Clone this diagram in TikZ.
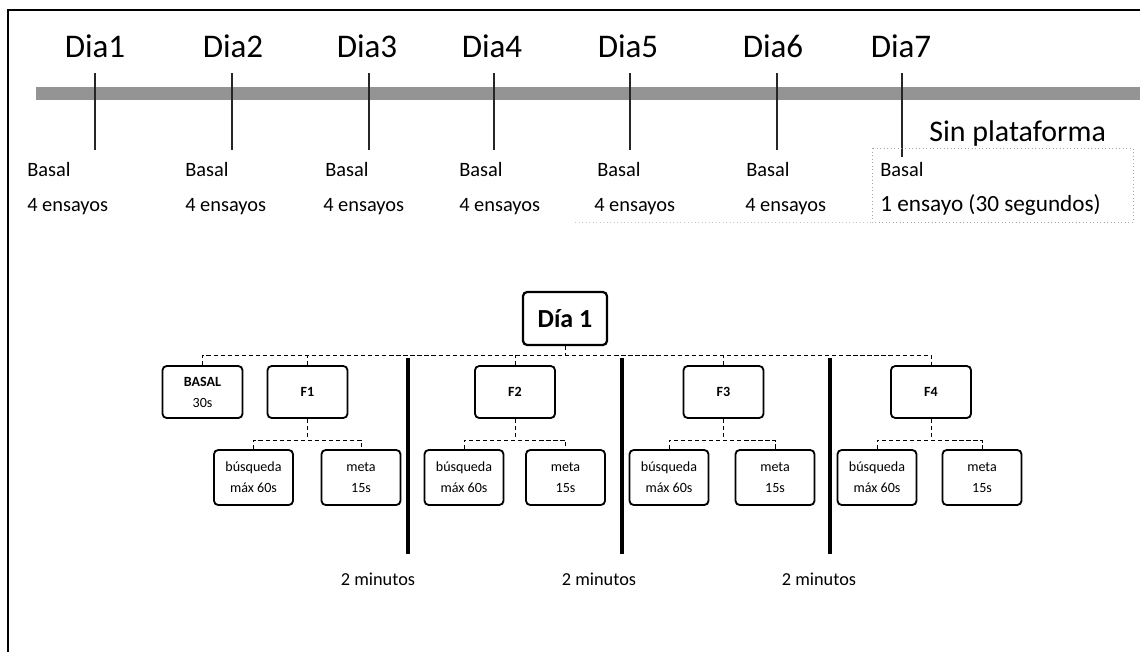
\documentclass[tikz,border=0pt]{standalone}
\usepackage{fontspec}
\setmainfont{Carlito}
\usetikzlibrary{positioning}

\begin{document}
\begin{tikzpicture}[x=0.025cm,y=-0.025cm,
  frame/.style={draw=black,line width=1.4pt},
  tick/.style={draw=black!85,line width=1.4pt},
  daylabel/.style={font=\fontsize{23.5}{28}\selectfont,anchor=base,inner sep=0pt},
  cell/.style={font=\fontsize{14.5}{18}\selectfont,anchor=base west,inner sep=0pt},
  box/.style={draw=black,line width=1.3pt,rounded corners=3pt,minimum width=2cm,minimum height=1.3cm,
    align=center,inner sep=1pt,font=\fontsize{10}{15}\selectfont},
  subbox/.style={box,minimum width=1.975cm,minimum height=1.375cm},
  hdr/.style={box,line width=1.6pt,minimum width=2.1cm,minimum height=1.325cm,font=\fontsize{18.5}{22}\selectfont\bfseries},
  conn/.style={draw=black,line width=0.6pt,dash pattern=on 3pt off 2pt},
  sep/.style={draw=black,line width=2.4pt},
  mins/.style={font=\fontsize{13}{15}\selectfont},
]
\useasboundingbox (0,0) rectangle (1140,652);
% frame and time line
\draw[frame] (1140,10) -- (8,10) -- (8,652);
\fill[black!42] (36,87) rectangle (1140,100);
\draw[tick] (95,73) -- (95,150);
\draw[tick] (232,73) -- (232,150);
\draw[tick] (369,73) -- (369,150);
\draw[tick] (494,73) -- (494,150);
\draw[tick] (630,73) -- (630,150);
\draw[tick] (777,73) -- (777,150);
\draw[tick] (902,73) -- (902,157);
\node[daylabel] (dia1) at (95,57) {Dia1};
\node[daylabel] (dia2) at (233,57) {Dia2};
\node[daylabel] (dia3) at (367,57) {Dia3};
\node[daylabel] (dia4) at (492,57) {Dia4};
\node[daylabel] (dia5) at (628,57) {Dia5};
\node[daylabel] (dia6) at (773,57) {Dia6};
\node[daylabel] (dia7) at (901,57) {Dia7};
\node[font=\fontsize{21.3}{25}\selectfont,anchor=base west,inner sep=0pt] (sinpl) at (929,141) {Sin plataforma};
% table of sessions
\draw[gray!70,dotted,line width=0.5pt] (872,148) rectangle (1133,222);
\draw[gray!45,dotted,line width=0.5pt] (575,222) -- (872,222);
\node[cell] (bas1) at (27,176) {Basal};
\node[cell] (bas2) at (185,176) {Basal};
\node[cell] (bas3) at (325,176) {Basal};
\node[cell] (bas4) at (459,176) {Basal};
\node[cell] (bas5) at (597,176) {Basal};
\node[cell] (bas6) at (746,176) {Basal};
\node[cell] (bas7) at (880,176) {Basal};
\node[cell] (ens1) at (27,211) {4 ensayos};
\node[cell] (ens2) at (185,211) {4 ensayos};
\node[cell] (ens3) at (323,211) {4 ensayos};
\node[cell] (ens4) at (459,211) {4 ensayos};
\node[cell] (ens5) at (594,211) {4 ensayos};
\node[cell] (ens6) at (745,211) {4 ensayos};
\node[cell,font=\fontsize{16.5}{20}\selectfont] (ens7) at (880,211) {1 ensayo (30 segundos)};
% day 1 in detail
\node[hdr] (d1) at (565,318.5) {Día 1};
\node[box] (basal) at (202.5,392) {\bfseries BASAL\\30s};
\node[box] (f1) at (307.5,392) {\bfseries F1};
\node[box] (f2) at (515,392) {\bfseries F2};
\node[box] (f3) at (723.5,392) {\bfseries F3};
\node[box] (f4) at (931,392) {\bfseries F4};
\node[subbox] (b1) at (253.5,477.5) {búsqueda\\máx 60s};
\node[subbox] (m1) at (361,477.5) {meta\\15s};
\node[subbox] (b2) at (464,477.5) {búsqueda\\máx 60s};
\node[subbox] (m2) at (565.5,477.5) {meta\\15s};
\node[subbox] (b3) at (669,477.5) {búsqueda\\máx 60s};
\node[subbox] (m3) at (775,477.5) {meta\\15s};
\node[subbox] (b4) at (877,477.5) {búsqueda\\máx 60s};
\node[subbox] (m4) at (982,477.5) {meta\\15s};
\coordinate (bus) at (565,355);
\coordinate (sub) at (565,440);
\draw[conn] (basal.north) |- (f4.north |- bus) -- (f4.north);
\draw[conn] (d1.south) -- (bus);
\draw[conn] (f1.north) -- (f1.north |- bus);
\draw[conn] (f2.north) -- (f2.north |- bus);
\draw[conn] (f3.north) -- (f3.north |- bus);
\draw[conn] (b1.north) |- (m1.north |- sub) -- (m1.north);
\draw[conn] (f1.south) -- (f1.south |- sub);
\draw[conn] (b2.north) |- (m2.north |- sub) -- (m2.north);
\draw[conn] (f2.south) -- (f2.south |- sub);
\draw[conn] (b3.north) |- (m3.north |- sub) -- (m3.north);
\draw[conn] (f3.south) -- (f3.south |- sub);
\draw[conn] (b4.north) |- (m4.north |- sub) -- (m4.north);
\draw[conn] (f4.south) -- (f4.south |- sub);
% pauses between trials
\coordinate (s1) at (408,554);
\coordinate (s2) at (622,554);
\coordinate (s3) at (830,554);
\draw[sep] (408,358) -- (s1);
\draw[sep] (622,358) -- (s2);
\draw[sep] (830,358) -- (s3);
\node[mins] (min1) at (378,579) {2 minutos};
\node[mins] (min2) at (599,579) {2 minutos};
\node[mins] (min3) at (819,579) {2 minutos};
\end{tikzpicture}
\end{document}
